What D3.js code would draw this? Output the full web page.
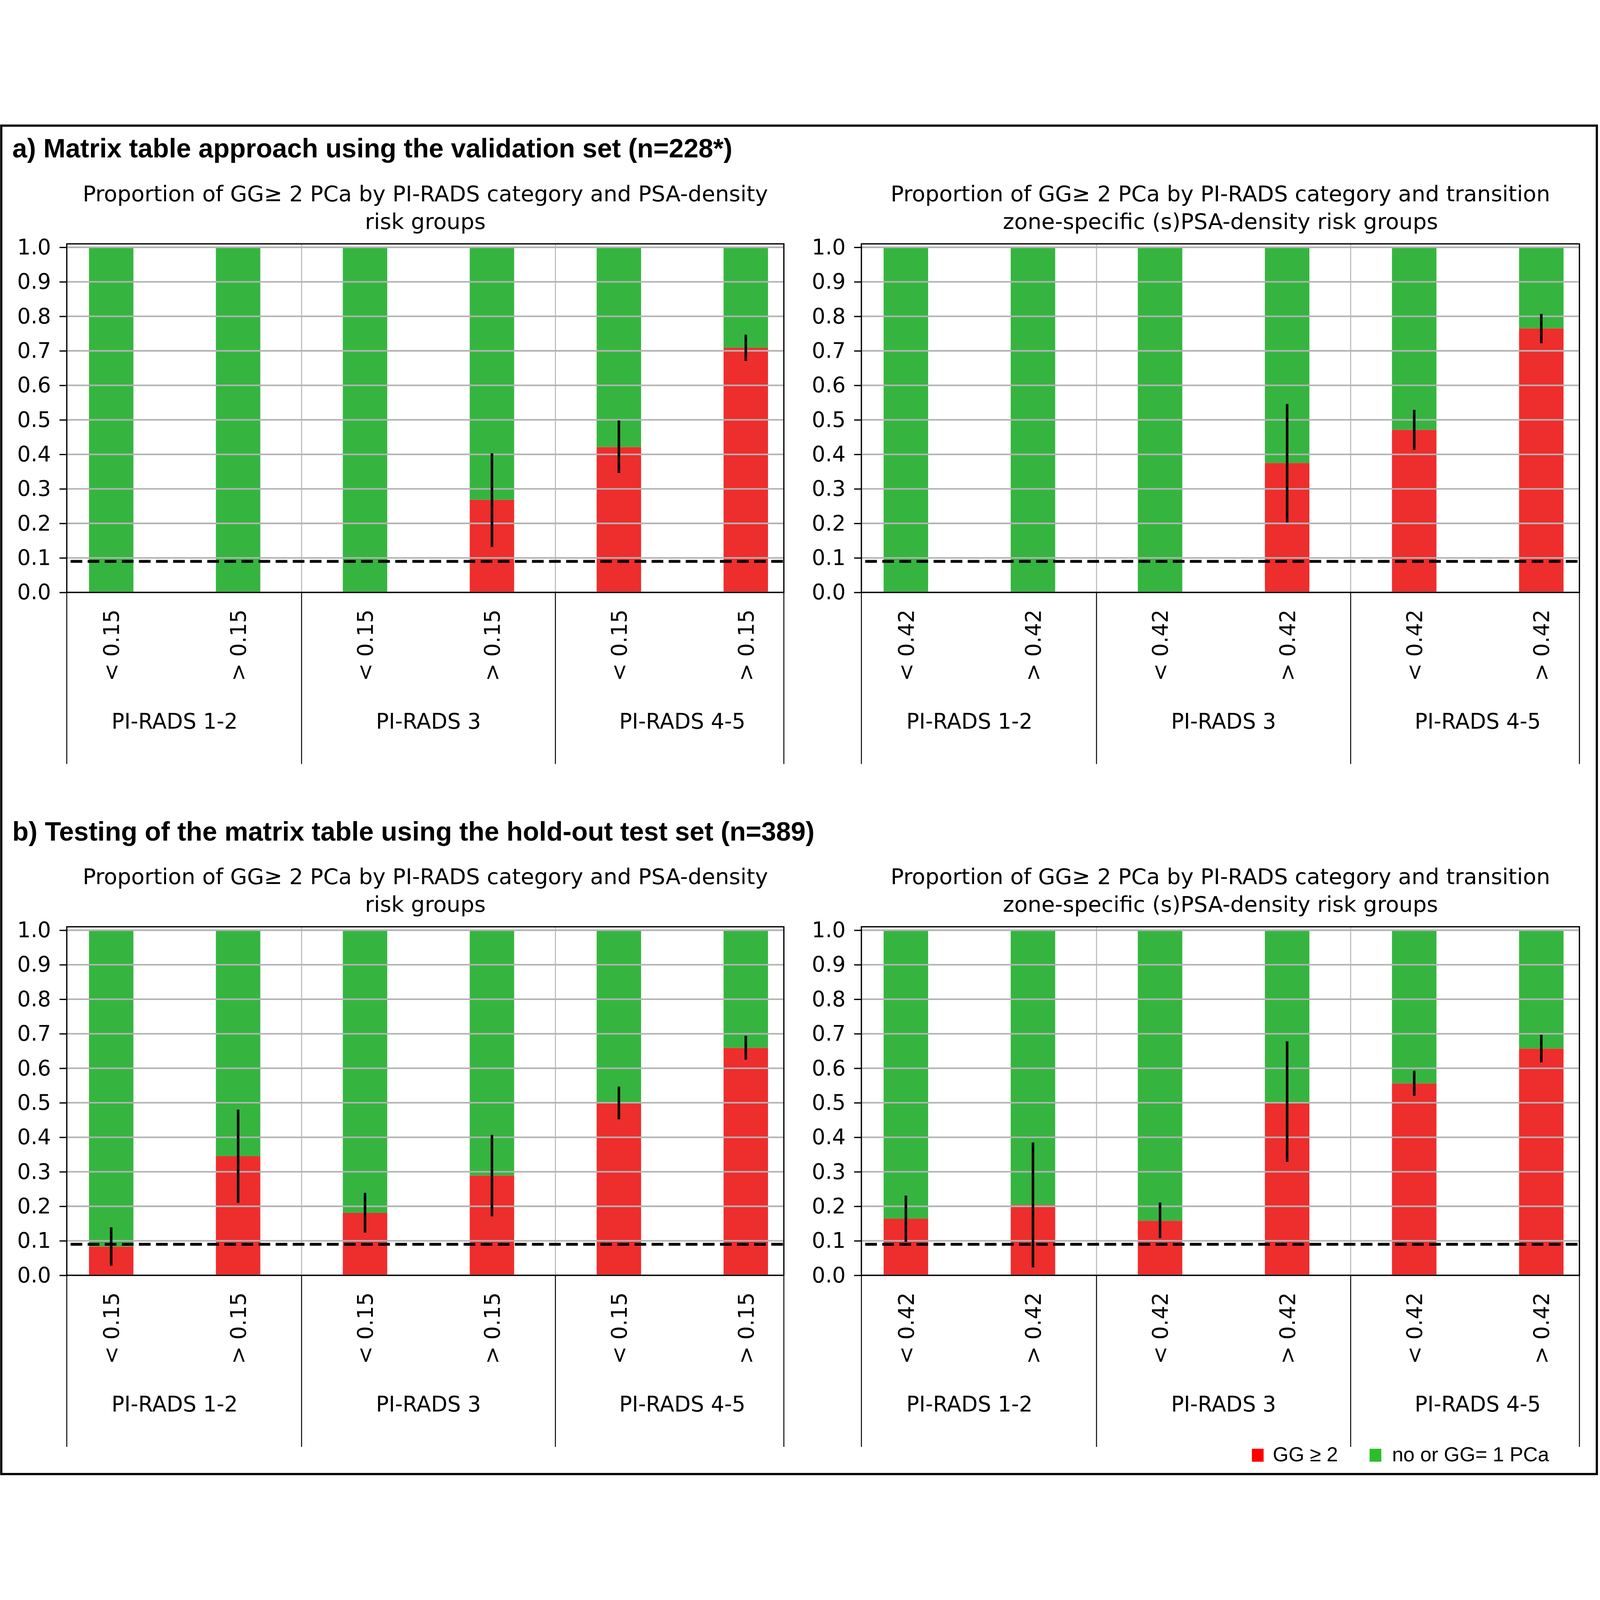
<!DOCTYPE html>
<html>
<head>
<meta charset="utf-8">
<script src="https://cdn.jsdelivr.net/npm/d3@7"></script>
<style>
  html, body { margin: 0; padding: 0; background: #fff; overflow: hidden; }
  svg { display: block; width: 100vw; height: 100vh; }
</style>
</head>
<body>
<script>
// ---- data ----
const groupNames = ["PI-RADS 1-2", "PI-RADS 3", "PI-RADS 4-5"];
const groupCenters = [0.5, 2.5, 4.5];
const groupSeparators = [1.5, 3.5];
const psadLabels = ["< 0.15", "> 0.15", "< 0.15", "> 0.15", "< 0.15", "> 0.15"];
const tzLabels = ["< 0.42", "> 0.42", "< 0.42", "> 0.42", "< 0.42", "> 0.42"];
const yTicks = [0, 0.1, 0.2, 0.3, 0.4, 0.5, 0.6, 0.7, 0.8, 0.9, 1.0];
const threshold = 0.09;

// proportion GG>=2 (red part), CI low / high
const redA_psad = [0, 0, 0, 0.268, 0.421, 0.709];
const loA_psad  = [null, null, null, 0.132, 0.346, 0.671];
const hiA_psad  = [null, null, null, 0.403, 0.498, 0.747];

const redA_tz = [0, 0, 0, 0.375, 0.471, 0.765];
const loA_tz  = [null, null, null, 0.203, 0.413, 0.722];
const hiA_tz  = [null, null, null, 0.546, 0.529, 0.807];

const redB_psad = [0.083, 0.345, 0.181, 0.289, 0.500, 0.659];
const loB_psad  = [0.028, 0.210, 0.124, 0.171, 0.452, 0.625];
const hiB_psad  = [0.139, 0.480, 0.239, 0.407, 0.547, 0.694];

const redB_tz = [0.164, 0.204, 0.158, 0.502, 0.556, 0.657];
const loB_tz  = [0.097, 0.023, 0.108, 0.329, 0.520, 0.617];
const hiB_tz  = [0.231, 0.385, 0.211, 0.678, 0.593, 0.697];

const subPsad = ["Proportion of GG\u2265 2 PCa by PI-RADS category and PSA-density", "risk groups"];
const subTz = ["Proportion of GG\u2265 2 PCa by PI-RADS category and transition", "zone-specific (s)PSA-density risk groups"];

const titleA = "a) Matrix table approach using the validation set (n=228*)";
const titleB = "b) Testing of the matrix table using the hold-out test set (n=389)";
const legendLabels = ["GG \u2265 2", "no or GG= 1 PCa"];

// ---- style ----
const W = 5056, H = 4274;
const RED = "#ee2d2d", GREEN = "#35b540";
const LEG_RED = "#ff0000", LEG_GREEN = "#2abf2a";
const GRID = "#b3b3b3";
const mpl = "'DejaVu Sans', sans-serif";
const arial = "'Liberation Sans', Arial, sans-serif";
const fs = 67;

// viewBox so the whole figure fits the (capped) viewport
const svg = d3.select("body").append("svg")
  .attr("viewBox", `0 0 ${W} ${H}`)
  .attr("preserveAspectRatio", "xMidYMid meet");

svg.append("rect").attr("width", W).attr("height", H).attr("fill", "#fff");

// outer frame
svg.append("rect")
  .attr("x", 4).attr("y", 6).attr("width", 5042).attr("height", 4261)
  .attr("fill", "none").attr("stroke", "#000").attr("stroke-width", 7);

const rowOffset = 2158;

// main titles
[titleA, titleB].forEach((t, i) => {
  svg.append("text")
    .attr("x", 39).attr("y", 107 + i * rowOffset)
    .attr("font-family", arial).attr("font-weight", "bold")
    .attr("font-size", 84).attr("fill", "#000")
    .text(t);
});

function drawPanel(p) {
  const x = d3.scaleLinear().domain([-0.35, 5.3]).range([p.x0, p.x1]);
  const y = d3.scaleLinear().domain([0, 1.01]).range([p.y0, p.y0 - 1101.4]);
  const g = svg.append("g");
  const bw = x(0.35) - x(0);

  // subtitle
  const cx = (p.x0 + p.x1) / 2;
  p.sub.forEach((s, i) => {
    g.append("text")
      .attr("x", cx).attr("y", p.y0 - 1236 + i * 87)
      .attr("text-anchor", "middle")
      .attr("font-family", mpl).attr("font-size", 69)
      .text(s);
  });

  // stacked bars
  const idx = d3.range(p.red.length);
  g.selectAll(".green").data(idx).join("rect")
    .attr("x", i => x(i) - bw / 2).attr("width", bw)
    .attr("y", y(1)).attr("height", i => y(p.red[i]) - y(1))
    .attr("fill", GREEN);
  g.selectAll(".red").data(idx.filter(i => p.red[i] > 0)).join("rect")
    .attr("x", i => x(i) - bw / 2).attr("width", bw)
    .attr("y", i => y(p.red[i])).attr("height", i => y(0) - y(p.red[i]))
    .attr("fill", RED);

  // horizontal grid
  g.selectAll(".hgrid").data(yTicks).join("line")
    .attr("x1", p.x0).attr("x2", p.x1)
    .attr("y1", d => y(d)).attr("y2", d => y(d))
    .attr("stroke", GRID).attr("stroke-width", 5);

  // group separators (grey inside, black below)
  g.selectAll(".vgrid").data(groupSeparators).join("line")
    .attr("x1", d => x(d)).attr("x2", d => x(d))
    .attr("y1", y(1.01)).attr("y2", y(0))
    .attr("stroke", GRID).attr("stroke-width", 3);
  g.selectAll(".vsep").data([-0.35, ...groupSeparators, 5.3]).join("line")
    .attr("x1", d => x(d)).attr("x2", d => x(d))
    .attr("y1", y(0)).attr("y2", y(0) + 542)
    .attr("stroke", "#000").attr("stroke-width", 3);

  // error bars
  g.selectAll(".err").data(idx.filter(i => p.lo[i] != null)).join("line")
    .attr("x1", i => x(i)).attr("x2", i => x(i))
    .attr("y1", i => y(p.lo[i])).attr("y2", i => y(p.hi[i]))
    .attr("stroke", "#000").attr("stroke-width", 8);

  // threshold
  g.append("line")
    .attr("x1", p.x0).attr("x2", p.x1)
    .attr("y1", y(threshold)).attr("y2", y(threshold))
    .attr("stroke", "#000").attr("stroke-width", 9)
    .attr("stroke-dasharray", "37,17").attr("stroke-dashoffset", -12);

  // spines
  g.append("rect")
    .attr("x", p.x0).attr("y", y(1.01))
    .attr("width", p.x1 - p.x0).attr("height", y(0) - y(1.01))
    .attr("fill", "none").attr("stroke", "#000").attr("stroke-width", 4);

  // y axis
  const ax = g.append("g")
    .attr("transform", `translate(${p.x0},0)`)
    .call(d3.axisLeft(y).tickValues(yTicks).tickFormat(d3.format(".1f"))
      .tickSize(23).tickPadding(27));
  ax.select(".domain").remove();
  ax.selectAll("line").attr("stroke", "#000").attr("stroke-width", 4);
  ax.selectAll("text").attr("font-family", mpl).attr("font-size", fs).attr("fill", "#000");

  // x tick labels (rotated)
  g.selectAll(".xt").data(idx).join("text")
    .attr("transform", i => `translate(${x(i)},${y(0) + 54}) rotate(-90)`)
    .attr("text-anchor", "end").attr("dy", "0.36em")
    .attr("font-family", mpl).attr("font-size", fs)
    .text(i => p.ticks[i]);

  // group labels
  g.selectAll(".grp").data(groupNames).join("text")
    .attr("x", (d, i) => x(groupCenters[i])).attr("y", y(0) + 430)
    .attr("text-anchor", "middle")
    .attr("font-family", mpl).attr("font-size", fs)
    .text(d => d);
}

drawPanel({x0: 211, x1: 2477, y0: 1481, sub: subPsad, ticks: psadLabels, red: redA_psad, lo: loA_psad, hi: hiA_psad});
drawPanel({x0: 2722, x1: 4991, y0: 1481, sub: subTz, ticks: tzLabels, red: redA_tz, lo: loA_tz, hi: hiA_tz});
drawPanel({x0: 211, x1: 2477, y0: 1481 + rowOffset, sub: subPsad, ticks: psadLabels, red: redB_psad, lo: loB_psad, hi: hiB_psad});
drawPanel({x0: 2722, x1: 4991, y0: 1481 + rowOffset, sub: subTz, ticks: tzLabels, red: redB_tz, lo: loB_tz, hi: hiB_tz});

// legend
const legX = [3956, 4328];
const legTextX = [4022, 4399];
[LEG_RED, LEG_GREEN].forEach((c, i) => {
  svg.append("rect")
    .attr("x", legX[i]).attr("y", 4187).attr("width", 37).attr("height", 41)
    .attr("fill", c);
  svg.append("text")
    .attr("x", legTextX[i]).attr("y", 4227)
    .attr("font-family", arial).attr("font-size", 64)
    .text(legendLabels[i]);
});
</script>
</body>
</html>
